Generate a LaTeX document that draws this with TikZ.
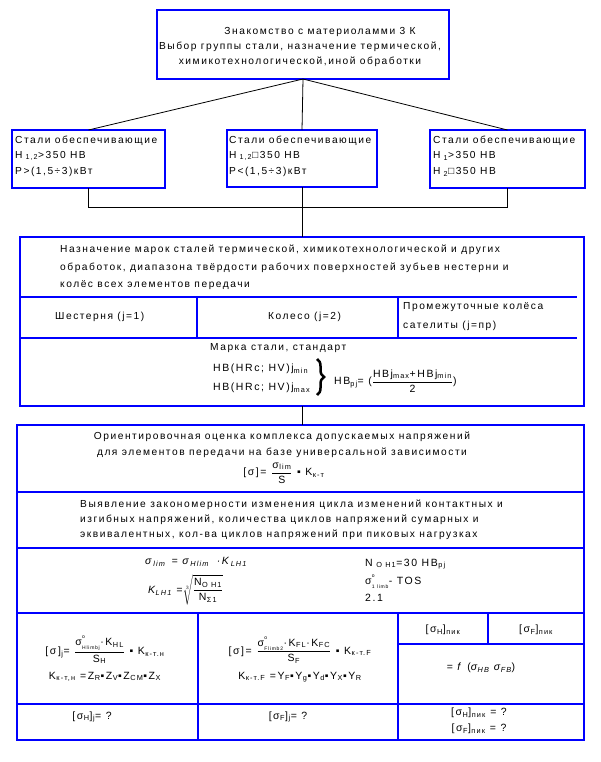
\documentclass[tikz,border=0pt]{standalone}
\usepackage{fontspec}
\setmainfont{Liberation Sans}[LetterSpace=15]
\usetikzlibrary{decorations.pathreplacing}
\newcommand\lsub[1]{\kern0.5pt\textsubscript{#1}}
\newcommand\isub[1]{\kern1.8pt\textsubscript{#1}}
\newcommand\sgo[1]{σ\kern0.3pt$^{\raisebox{3pt}{\tiny o}}_{\raisebox{-1pt}{\tiny #1}}$}
\begin{document}
\begin{tikzpicture}[x=1pt,y=-1pt,
 bx/.style={draw=blue, line width=2.2pt, inner sep=0pt, outer sep=0pt},
 ln/.style={draw=blue, line width=2.2pt},
 conn/.style={draw=black, line width=0.8pt},
 tx/.style={inner sep=0pt, anchor=west, font=\fontsize{10.2}{11}\selectfont},
 tc/.style={inner sep=0pt, anchor=center, font=\fontsize{10.2}{11}\selectfont},
 fm/.style={inner sep=0pt, anchor=center, font=\fontsize{10.5}{11}\selectfont},
 fw/.style={fm, anchor=west}]
\fill[white] (0,0) rectangle (601,762);
\useasboundingbox (0,0) rectangle (601,762);
% top box
\node[bx, minimum width=292pt, minimum height=69pt] (top) at (303,44.5) {};
\node[tc] (t1) at (320,32) {Знакомство с материоламми 3 К};
\node[tc] (t2) at (300,47) {Выбор группы стали, назначение термической,};
\node[tc] (t3) at (300,62) {химикотехнологической,иной обработки};
% three boxes
\node[bx, minimum width=153pt, minimum height=58pt] (b1) at (88.5,159) {};
\node[bx, minimum width=150pt, minimum height=57pt] (b2) at (302,158.5) {};
\node[bx, minimum width=155pt, minimum height=58pt] (b3) at (507.5,159) {};
\node[tx] (b1a) at (15,141) {Стали обеспечивающие};
\node[tx] (b1b) at (15,156) {H\textsubscript{ 1,2}>350 HB};
\node[tx] (b1c) at (15,172) {P>(1,5÷3)кВт};
\node[tx] (b2a) at (229,141) {Стали обеспечивающие};
\node[tx] (b2b) at (229,156) {H\textsubscript{ 1,2}□350 HB};
\node[tx] (b2c) at (229,172) {P<(1,5÷3)кВт};
\node[tx] (b3a) at (433,141) {Стали обеспечивающие};
\node[tx] (b3b) at (433,156) {H\textsubscript{ 1}>350 HB};
\node[tx] (b3c) at (433,172) {H\textsubscript{ 2}□350 HB};
% block 1
\node[bx, minimum width=564pt, minimum height=169pt] (blk1) at (302,321.5) {};
\draw[conn] (top.south) -- (b1.north);
\draw[conn] (top.south) -- (b2.north);
\draw[conn] (top.south) -- (b3.north);
\coordinate (jn) at (302,207);
\draw[conn] (b1.south) -- (b1.south |- jn) -- (b3.south |- jn) -- (b3.south);
\draw[conn] (b2.south) -- (blk1.north);
\draw[ln] (20,297) -- (577,297);
\draw[ln] (20,338) -- (577,338);
\draw[ln] (197,297) -- (197,338);
\draw[ln] (398,297) -- (398,338);
\node[tx] (h1) at (60,250) {Назначение марок сталей термической, химикотехнологической и других};
\node[tx] (h2) at (60,268) {обработок, диапазона твёрдости рабочих поверхностей зубьев нестерни и};
\node[tx] (h3) at (60,285) {колёс всех элементов передачи};
\node[tx] (c1) at (55,317) {Шестерня (j=1)};
\node[tx] (c2) at (268,317) {Колесо (j=2)};
\node[tx] (c3a) at (403,307) {Промежуточные колёса};
\node[tx] (c3b) at (403,326) {сателиты (j=пр)};
\node[tx] (m1) at (210,348) {Марка стали, стандарт};
\node[fw] (m2) at (213,369) {HB(HRc; HV)j\textsubscript{min}};
\node[fw] (m3) at (213,388) {HB(HRc; HV)j\textsubscript{max}};
\draw[decorate,decoration={brace,amplitude=7pt},line width=2.5pt] (317,359) -- (317,395);
\node[fw] (m4) at (334,381) {HB\textsubscript{pj}= ($\displaystyle\frac{\mbox{HBj\textsubscript{max}+HBj\textsubscript{min}}}{\mbox{2}}$)};
% block 2
\node[bx, minimum width=567pt, minimum height=315pt] (blk2) at (300.5,582.5) {};
\draw[conn] (blk1.south) -- (blk1.south |- blk2.north);
\draw[ln] (17,492) -- (584,492);
\draw[ln] (17,548) -- (584,548);
\draw[ln] (17,613) -- (584,613);
\draw[ln] (17,704) -- (584,704);
\draw[ln] (198,613) -- (198,740);
\draw[ln] (398,613) -- (398,740);
\draw[ln] (398,644) -- (584,644);
\draw[ln] (488,613) -- (488,644);
\node[tc] (o1) at (282,437) {Ориентировочная оценка комплекса допускаемых напряжений};
\node[tc] (o2) at (282,453) {для элементов передачи на базе универсальной зависимости};
\node[fm] (o3) at (284,473) {[σ]= $\displaystyle\frac{\mbox{σ\lsub{lim}}}{\mbox{S}}$ ▪ K\lsub{к-т}};
\node[tx] (v1) at (80,505) {Выявление закономерности изменения цикла изменений контактных и};
\node[tx] (v2) at (80,520) {изгибных напряжений, количества циклов напряжений сумарных и};
\node[tx] (v3) at (80,535) {эквивалентных, кол-ва циклов напряжений при пиковых нагрузках};
\node[fw, font=\fontsize{10.5}{11}\itshape] (f1) at (145,562) {σ\isub{lim}\, = σ\isub{Hlim}\,\, ·K\isub{LH1}};
\node[fw, font=\fontsize{10.5}{11}\itshape] (f2) at (148,590) {K\lsub{LH1} =$\sqrt[3]{\displaystyle\frac{\mbox{\upshape N\lsub{O H1}}}{\mbox{\upshape N\lsub{Σ1}}}}$};
\node[fw, font=\fontsize{10.5}{11}\selectfont] (f3) at (365,564) {N\lsub{ O H1}=30 HB\lsub{pj}};
\node[fw, font=\fontsize{10.5}{11}\selectfont] (f4) at (365,582) {\sgo{1 limb}- TOS};
\node[fw, font=\fontsize{10.5}{11}\selectfont] (f5) at (365,598) {2.1};
\node[fm] (g1) at (105,650) {[σ]\lsub{j}= $\displaystyle\frac{\mbox{\sgo{Hlimbj}·K\lsub{HL}}}{\mbox{S\lsub{H}}}$ ▪ K\lsub{к-т.н}};
\node[fm] (g2) at (105,677) {K\lsub{к-т,н} =Z\lsub{R}▪Z\lsub{V}▪Z\lsub{CM}▪Z\lsub{X}};
\node[fm] (g3) at (300,650) {[σ]= $\displaystyle\frac{\mbox{\sgo{Flimb2}·K\lsub{FL}·K\lsub{FC}}}{\mbox{S\lsub{F}}}$ ▪ K\lsub{к-т.F}};
\node[fm] (g4) at (300,677) {K\lsub{к-т.F} =Y\lsub{F}▪Y\lsub{g}▪Y\lsub{d}▪Y\lsub{X}▪Y\lsub{R}};
\node[fm] (p1) at (443,630) {[σ\lsub{H}]\lsub{пик}};
\node[fm] (p2) at (536,630) {[σ\lsub{F}]\lsub{пик}};
\node[fm] (p3) at (481,668) {= \textit{f} (\textit{σ\lsub{HB} σ\lsub{FB}})};
\node[fm] (q1) at (92,717) {[σ\lsub{H}]\lsub{j}= ?};
\node[fm] (q2) at (288,717) {[σ\lsub{F}]\lsub{j}= ?};
\node[fm] (q3) at (479,713) {[σ\lsub{H}]\lsub{пик} = ?};
\node[fm] (q4) at (479,729) {[σ\lsub{F}]\lsub{пик} = ?};
\end{tikzpicture}
\end{document}
